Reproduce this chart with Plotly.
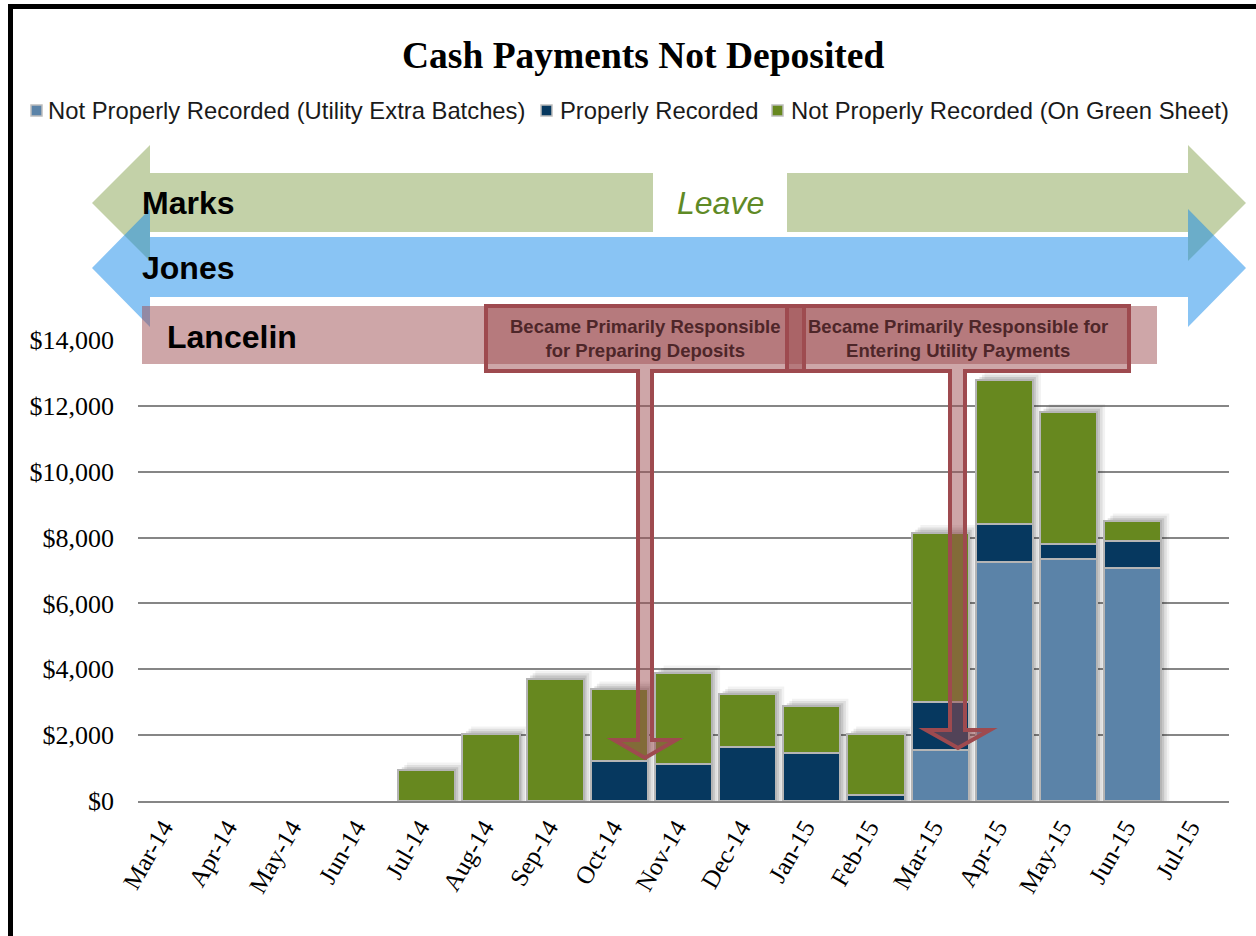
import plotly.graph_objects as go

# ---------------- data ----------------
months = ["Mar-14", "Apr-14", "May-14", "Jun-14", "Jul-14", "Aug-14", "Sep-14",
          "Oct-14", "Nov-14", "Dec-14", "Jan-15", "Feb-15", "Mar-15", "Apr-15",
          "May-15", "Jun-15", "Jul-15"]
utility_extra = [None, None, None, None, None, None, None, None, None, None, None,
                 None, 1540, 7260, 7360, 7090, None]
properly_recorded = [None, None, None, None, None, None, None, 1215, 1115, 1640,
                     1470, 175, 1470, 1140, 430, 820, None]
green_sheet = [None, None, None, None, 935, 2030, 3720, 2180, 2765, 1600, 1405,
               1855, 5135, 4385, 4030, 590, None]
series_names = ["Not Properly Recorded (Utility Extra Batches)", "Properly Recorded",
                "Not Properly Recorded (On Green Sheet)"]
series_colors = ["#5b83a8", "#06385f", "#67881f"]
y_ticks = [0, 2000, 4000, 6000, 8000, 10000, 12000, 14000]

# ---------------- geometry helpers (pixel -> paper) ----------------
W, H = 1256, 936
PL, PR, PT, PB = 138, 1229, 340, 801


def fx(px):
    return (px - PL) / (PR - PL)


def fy(py):
    return (PB - py) / (PB - PT)


def path(points):
    s = "M " + " L ".join(f"{fx(x):.5f},{fy(y):.5f}" for x, y in points) + " Z"
    return s


fig = go.Figure()
for vals, name, col in zip([utility_extra, properly_recorded, green_sheet], series_names, series_colors):
    fig.add_trace(go.Bar(x=months, y=vals, name=name, marker=dict(color=col, line=dict(color="#b5b5b5", width=2)),
                         showlegend=False))

shapes = []
annotations = []

# soft bar shadows (derived from data totals)
for i in range(len(months)):
    tot = sum(v for v in (utility_extra[i], properly_recorded[i], green_sheet[i]) if v)
    if tot <= 0:
        continue
    for k, a in [(0.05, 0.11), (0.09, 0.08), (0.13, 0.05)]:
        shapes.append(dict(type="rect", xref="x", yref="y", x0=i - 0.44 + k, x1=i + 0.44 + k,
                           y0=0, y1=tot + 90 * k / 0.05, fillcolor=f"rgba(0,0,0,{a})", line_width=0,
                           layer="between"))

# outer black frame
shapes.append(dict(type="rect", xref="paper", yref="paper", x0=fx(10.5), x1=fx(1270), y0=fy(6.5), y1=fy(950),
                   line=dict(color="black", width=5), fillcolor="rgba(0,0,0,0)", layer="above"))

# Marks arrow (double-headed)
marks_pts = [(92, 203), (150, 145), (150, 173), (1188, 173), (1188, 145), (1246, 203),
             (1188, 261), (1188, 232), (150, 232), (150, 261)]
shapes.append(dict(type="path", xref="paper", yref="paper", path=path(marks_pts),
                   fillcolor="rgba(135,163,81,0.5)", line_width=0))
# Leave white box
shapes.append(dict(type="rect", xref="paper", yref="paper", x0=fx(653), x1=fx(787), y0=fy(173), y1=fy(232),
                   fillcolor="white", line_width=0))
# Jones arrow
jones_pts = [(92, 268), (150, 209), (150, 237), (1188, 237), (1188, 209), (1246, 268),
             (1188, 327), (1188, 297), (150, 297), (150, 327)]
shapes.append(dict(type="path", xref="paper", yref="paper", path=path(jones_pts),
                   fillcolor="rgba(19,137,233,0.5)", line_width=0))
# Lancelin bar
shapes.append(dict(type="rect", xref="paper", yref="paper", x0=fx(142), x1=fx(1157), y0=fy(306), y1=fy(364),
                   fillcolor="rgba(158,78,82,0.5)", line_width=0))

# callouts
call1 = [(486, 306), (804, 306), (804, 371), (652, 371), (652, 740), (676, 740), (645, 758),
         (614, 740), (638, 740), (638, 371), (486, 371)]
call2 = [(787, 306), (1129, 306), (1129, 371), (965, 371), (965, 730), (990, 730), (958, 748),
         (926, 730), (950, 730), (950, 371), (787, 371)]
for pts in (call1, call2):
    shapes.append(dict(type="path", xref="paper", yref="paper", path=path(pts),
                       fillcolor="rgba(158,78,82,0.5)", line=dict(color="#9e4a4f", width=4)))

# legend (custom)
leg_sq = [31, 541, 772]
leg_tx = [46, 558, 789]
for sx, tx, name, col in zip(leg_sq, leg_tx, series_names, series_colors):
    shapes.append(dict(type="rect", xref="paper", yref="paper", x0=fx(sx), x1=fx(sx + 11), y0=fy(105),
                       y1=fy(116), fillcolor=col, line=dict(color="#bdbdbd", width=1.5)))
    annotations.append(dict(xref="paper", yref="paper", x=fx(tx), y=fy(111), text=name, showarrow=False,
                            xanchor="left", yanchor="middle",
                            font=dict(family="Arial, Liberation Sans", size=23.8, color="#1a1a1a")))

# title
annotations.append(dict(xref="paper", yref="paper", x=fx(643), y=fy(55), text="<b>Cash Payments Not Deposited</b>",
                        showarrow=False, xanchor="center", yanchor="middle",
                        font=dict(family="Times New Roman, Liberation Serif, serif", size=37.5, color="black")))

# people labels
for txt, x, y in [("Marks", 140, 203), ("Jones", 140, 268), ("Lancelin", 165, 337)]:
    annotations.append(dict(xref="paper", yref="paper", x=fx(x), y=fy(y), text=f"<b>{txt}</b>", showarrow=False,
                            xanchor="left", yanchor="middle",
                            font=dict(family="Arial, Liberation Sans", size=32, color="black")))
annotations.append(dict(xref="paper", yref="paper", x=fx(720), y=fy(203), text="<i>Leave</i>", showarrow=False,
                        xanchor="center", yanchor="middle",
                        font=dict(family="Arial, Liberation Sans", size=32, color="#5f8a26")))

# callout texts
for txt, x in [("<b>Became Primarily Responsible<br>for Preparing Deposits</b>", 645),
               ("<b>Became Primarily Responsible for<br>Entering Utility Payments</b>", 958)]:
    annotations.append(dict(xref="paper", yref="paper", x=fx(x), y=fy(338), text=txt, showarrow=False,
                            xanchor="center", yanchor="middle", align="center",
                            font=dict(family="Arial, Liberation Sans", size=18.5, color="#4e2629")))

fig.update_layout(
    width=W, height=H,
    margin=dict(l=PL, r=W - PR, t=PT, b=H - PB, pad=0),
    barmode="stack", bargap=0.11,
    plot_bgcolor="white", paper_bgcolor="white",
    shapes=shapes, annotations=annotations,
    showlegend=False,
)
fig.update_yaxes(range=[0, 14000], tickvals=y_ticks, tickformat="$,.0f", showgrid=True,
                 gridcolor="#868686", gridwidth=1.5, zeroline=False, ticks="", ticklabelstandoff=23,
                 tickfont=dict(family="Times New Roman, Liberation Serif, serif", size=26, color="black"))
fig.update_xaxes(type="category", range=[-0.5, 16.5], showline=True, linecolor="#868686", linewidth=2,
                 tickangle=-60, ticks="", ticklabelshift=-7,
                 tickfont=dict(family="Times New Roman, Liberation Serif, serif", size=25, color="black"))

fig.write_html("out.html", config={"displayModeBar": False},
               post_script="document.body.style.margin='0';document.body.style.overflow='hidden';")
